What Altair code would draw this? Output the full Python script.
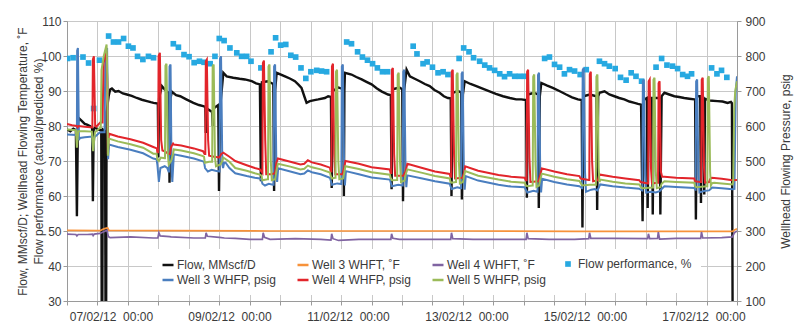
import altair as alt
import pandas as pd

FONT = "Liberation Sans"
TXT = "#3a3a3a"
GRID = "#c8c8c8"
AXC = "#9a9a9a"

# ---- data (hours from left edge of the time axis, value) ----
FLOW = [
    (0, 79.0), (1.3, 78.5), (2.5, 79.2), (3.5, 78.8), (3.9, 54.2), (4.3, 80.5), (4.6, 82.3), (5.9, 81.4),
    (7.0, 80.6), (7.9, 80.4), (9.2, 79.9), (9.9, 79.5), (10.2, 58.5), (10.5, 79.0), (11.1, 79.5), (12.4, 79.0),
    (13.5, 78.8), (13.7, 20), (13.9, 20), (14.1, 79.0), (15.0, 78.5), (15.2, 20), (15.4, 20), (15.6, 84.0),
    (16.4, 88.5), (17.0, 90.4), (17.7, 90.7), (19.0, 89.8), (20.3, 90.0), (22.0, 89.3), (23.6, 89.0),
    (25.5, 88.6), (27.5, 88.0), (29.5, 87.5), (31.5, 87.1), (33.0, 86.8), (34.1, 86.6), (35.8, 86.4),
    (36.0, 71.0), (36.3, 88.0), (37.4, 91.4), (39.0, 90.0), (40.1, 89.5), (40.4, 63.8), (40.8, 88.0),
    (41.3, 89.8), (43.0, 88.8), (44.6, 88.5), (47.0, 87.6), (49.8, 86.6), (52.0, 86.0), (53.7, 85.7),
    (54.5, 85.5), (54.7, 78.0), (55.0, 85.0), (57.2, 84.0), (57.4, 80.0), (57.7, 85.0), (59.6, 86.0),
    (59.9, 61.4), (60.3, 85.0), (61.6, 95.2), (62.9, 94.2), (65.5, 93.8), (68.0, 93.5), (70.1, 93.3),
    (72.8, 92.8), (74.5, 92.2), (76.0, 91.9), (76.4, 64.2), (76.8, 92.5), (79.0, 92.8), (81.3, 92.0),
    (81.6, 61.4), (82.0, 90.0), (82.6, 95.2), (85.9, 94.2), (88.0, 93.5), (89.8, 92.8), (91.2, 91.8),
    (92.4, 90.9), (93.5, 88.5), (94.4, 86.6), (95.7, 87.1), (97.5, 87.4), (99.0, 87.6), (101.6, 88.0),
    (102.9, 88.5), (104.0, 88.3), (104.3, 62.3), (104.7, 90.0), (107.0, 91.0), (108.8, 90.5), (109.1, 60.0),
    (109.3, 90.0), (109.5, 95.2), (112.1, 94.7), (114.0, 94.0), (116.1, 93.3), (118.0, 92.6), (120.0, 91.9),
    (122.0, 90.8), (123.9, 89.9), (126.5, 89.0), (127.6, 88.8), (127.9, 61.9), (128.3, 90.5), (131.0, 91.0),
    (132.1, 90.5), (132.4, 58.5), (132.8, 90.0), (133.8, 96.1), (135.1, 94.2), (137.0, 93.5), (139.0, 92.8),
    (141.0, 92.0), (142.9, 91.4), (144.8, 90.3), (146.8, 89.5), (148.5, 88.5), (150.1, 88.0), (151.2, 87.9),
    (151.5, 60.0), (151.9, 89.5), (154.0, 90.0), (155.3, 89.6), (155.6, 59.0), (156.0, 89.0), (156.7, 92.8),
    (159.0, 92.0), (161.3, 91.4), (164.0, 90.6), (166.5, 89.9), (169.0, 89.2), (171.8, 88.5), (174.5, 88.0),
    (177.0, 87.6), (179.0, 87.6), (180.9, 87.4), (181.2, 59.5), (181.6, 89.0), (184.0, 89.5), (185.6, 89.0),
    (185.9, 56.6), (186.3, 88.5), (186.9, 92.3), (189.0, 91.6), (191.4, 90.9), (194.0, 90.0), (196.7, 89.0),
    (199.0, 88.2), (201.3, 87.6), (202.8, 87.4), (203.1, 51.0), (203.5, 88.5), (206.0, 89.0), (208.6, 88.5),
    (208.9, 56.0), (209.3, 88.5), (209.8, 89.5), (211.8, 89.9), (213.7, 89.0), (215.7, 88.5), (217.6, 88.0),
    (219.6, 87.6), (221.6, 87.0), (223.6, 86.6), (225.0, 86.3), (226.2, 86.1), (226.8, 52.8), (227.3, 87.5),
    (228.5, 88.0), (228.8, 56.6), (229.2, 88.0), (230.5, 88.0), (230.8, 54.7), (231.2, 88.0), (233.5, 88.0),
    (233.8, 54.7), (234.3, 88.5), (235.4, 89.5), (237.3, 89.0), (239.3, 88.5), (241.2, 88.3), (243.2, 88.0),
    (245.2, 87.8), (247.2, 87.6), (247.5, 87.5), (247.8, 53.3), (248.2, 88.5), (249.5, 88.5), (249.8, 58.0),
    (250.2, 88.0), (250.8, 88.0), (251.1, 60.4), (251.4, 87.8), (253.1, 87.3), (256.3, 87.1), (258.3, 87.0),
    (260.3, 86.6), (261.6, 86.9), (262.0, 86.5), (262.3, 20),
]

W3_WHFT = [
    (0, 50.2), (13.0, 50.1), (14.5, 50.6), (16.0, 50.9), (16.5, 50.2), (40, 50.1), (80, 50.0), (120, 50.0),
    (160, 50.0), (200, 49.9), (240, 49.9), (262.2, 49.9), (263.0, 50.3), (264, 50.6),
]

W4_WHFT = [
    (0, 49.1), (3.5, 49.0), (3.9, 48.6), (4.4, 49.0), (8, 49.0), (10.0, 49.1), (10.3, 48.7), (10.7, 49.1),
    (13.0, 49.3), (14.5, 49.8), (15.8, 50.2), (16.3, 48.4), (17.0, 48.1), (25, 48.3), (34, 48.0), (35.8, 48.0),
    (36.2, 49.5), (36.7, 48.6), (40.4, 48.4), (41, 48.3), (50, 48.0), (54.5, 48.0), (54.8, 49.5), (55.3, 48.5),
    (60.0, 48.2), (62, 48.0), (66.3, 47.9), (72, 47.6), (77.0, 47.6), (77.3, 49.5), (77.8, 48.2), (80, 47.6),
    (90, 47.8), (100, 47.6), (104.0, 47.4), (104.3, 49.2), (104.8, 47.8), (107, 47.3), (115, 47.6),
    (127.6, 47.6), (127.9, 49.2), (128.4, 47.9), (131, 47.6), (140, 47.6), (151.2, 47.6), (151.5, 49.5),
    (152.0, 47.8), (160, 47.6), (170, 47.6), (180.9, 47.6), (181.2, 49.5), (181.7, 47.8), (190, 47.6),
    (200, 47.6), (205.6, 47.8), (205.9, 49.5), (206.4, 47.9), (215, 47.9), (228.8, 47.8), (229.1, 49.2),
    (229.6, 47.8), (232.7, 47.9), (233.0, 49.7), (233.5, 47.7), (240, 47.9), (249.7, 47.9), (250.0, 49.7),
    (250.5, 48.0), (258, 48.1), (262.2, 48.3), (263.0, 49.5), (264, 50.0),
]

PERF = [
    (0.2, 99.3), (2.4, 99.5), (6.3, 99.7), (8.5, 98.0), (10.5, 85.0), (12.8, 98.8), (16.4, 105.7), (18.3, 104.0),
    (20.3, 104.0), (22.3, 105.0), (24.2, 102.8), (26.0, 102.3), (27.8, 99.9), (29.9, 99.0), (32.1, 99.9),
    (34.1, 99.5), (41.9, 103.5), (43.9, 102.5), (46.1, 100.4), (48.1, 99.8), (50.1, 98.1), (52.2, 98.5),
    (54.0, 98.2), (56.4, 97.8), (58.3, 99.9), (60.0, 105.0), (61.9, 104.4), (64.2, 102.3), (66.9, 100.9),
    (68.8, 99.9), (70.8, 99.9), (72.5, 98.5), (76.4, 96.6), (80.4, 101.2), (82.2, 105.2), (84.2, 103.1),
    (86.2, 103.3), (88.2, 100.2), (90.1, 99.7), (92.2, 96.6), (94.1, 93.6), (96.1, 95.5), (98.4, 95.9),
    (100.3, 95.7), (102.3, 95.5), (110.2, 104.0), (112.1, 103.5), (114.5, 101.2), (116.4, 99.7), (118.4, 98.8),
    (120.4, 97.8), (122.3, 96.6), (124.3, 95.5), (126.3, 95.5), (136.4, 102.8), (137.9, 100.6), (140.3, 97.8),
    (141.9, 98.3), (144.0, 96.8), (146.2, 95.2), (148.2, 95.5), (150.1, 94.7), (154.5, 99.3), (156.3, 102.3),
    (158.4, 101.2), (160.2, 99.5), (162.6, 98.5), (164.6, 97.4), (166.5, 96.6), (168.5, 95.9), (170.5, 94.9),
    (172.4, 94.1), (174.4, 94.9), (176.4, 94.2), (178.3, 94.2), (180.3, 94.2), (188.2, 99.3), (190.1, 99.7),
    (192.1, 97.6), (194.1, 96.8), (196.0, 94.9), (198.0, 96.1), (200.0, 95.7), (202.2, 94.7), (204.6, 96.1),
    (209.8, 98.5), (211.8, 97.8), (213.7, 97.1), (216.0, 96.4), (218.1, 93.9), (220.3, 93.1), (222.3, 95.2),
    (224.2, 94.2), (226.4, 92.8), (232.1, 96.8), (234.3, 99.3), (236.4, 97.4), (238.6, 97.1), (240.6, 96.4),
    (242.6, 94.7), (244.5, 94.2), (246.1, 94.9), (254.0, 96.6), (256.1, 94.9), (257.9, 95.9), (260.0, 93.9),
]

W3_WHFP = [
    (0, 576), (3.7, 574), (3.9, 574), (4.0, 815), (4.3, 823), (4.7, 560), (5.1, 566), (7, 568), (9.9, 570),
    (10.3, 530), (10.8, 568), (13.0, 582), (14.8, 582), (15.1, 790), (15.8, 823), (16.0, 700), (16.2, 505),
    (16.6, 547), (20, 540), (25, 532), (30, 522), (34.0, 507), (35.3, 505), (35.6, 490), (36.2, 440),
    (36.8, 480), (38.5, 485), (39.5, 480), (40.0, 470), (40.2, 470), (40.4, 770), (40.8, 776), (41.2, 480),
    (41.5, 440), (41.8, 480), (42.1, 519), (45, 515), (50, 507), (53.6, 499), (54.0, 497), (54.4, 480),
    (55.5, 470), (57.0, 475), (58.5, 472), (60.0, 470), (60.1, 470), (60.3, 792), (60.7, 799), (61.2, 490),
    (61.5, 480), (61.9, 495), (62.5, 495), (64, 480), (66.3, 465), (70.8, 457), (74, 452), (76.0, 450),
    (76.6, 446), (77.0, 435), (78.0, 430), (79.5, 435), (81.2, 432), (81.4, 432), (81.6, 770), (82.0, 776),
    (82.5, 480), (82.8, 440), (83.2, 479), (88, 470), (92, 462), (93.5, 464), (94.9, 473), (96.5, 468),
    (100, 462), (103.6, 452), (103.9, 445), (104.4, 432), (106.5, 436), (108.0, 434), (108.1, 434),
    (108.3, 770), (108.7, 776), (109.2, 470), (109.5, 430), (109.9, 471), (115, 462), (120, 453),
    (127.2, 447), (127.5, 440), (128.0, 428), (130.5, 432), (132.2, 430), (132.3, 430), (132.5, 755),
    (132.9, 761), (133.4, 470), (133.7, 425), (134.1, 459), (140, 450), (145, 442), (150.8, 435),
    (151.1, 428), (151.6, 420), (153.8, 425), (155.2, 422), (155.3, 422), (155.5, 749), (155.9, 755),
    (156.4, 460), (156.7, 418), (157.1, 457), (162, 444), (170, 432), (175, 427), (180.3, 425), (180.8, 418),
    (181.4, 410), (183.8, 415), (185.3, 412), (185.4, 412), (185.6, 746), (186.0, 752), (186.5, 450),
    (186.8, 410), (187.2, 449), (192, 440), (197, 433), (201.9, 428), (202.5, 425), (202.9, 422),
    (203.0, 422), (203.2, 760), (203.6, 766), (204.1, 470), (204.5, 412), (206.5, 418), (208.0, 420),
    (209.0, 416), (209.6, 425), (210.1, 433), (215, 428), (220, 424), (225.5, 421), (226.1, 418),
    (226.6, 416), (226.7, 416), (226.9, 727), (227.3, 733), (227.8, 460), (228.2, 410), (230.0, 412),
    (232.0, 410), (233.5, 414), (234.3, 420), (235.4, 428), (240, 426), (247.2, 423), (247.4, 420),
    (247.6, 418), (247.7, 418), (247.9, 727), (248.3, 733), (248.8, 460), (249.2, 410), (251.0, 414),
    (253.0, 416), (253.6, 420), (254.2, 424), (258, 422), (262.2, 419), (263.0, 420), (263.5, 700), (264, 742),
]

W4_WHFP = [
    (0, 606), (2, 602), (3.8, 600), (4.2, 596), (4.6, 600), (7, 598), (10.0, 596), (10.2, 790), (10.6, 799),
    (11.1, 600), (11.5, 598), (13.1, 610), (14.0, 610), (14.4, 780), (15.5, 814), (15.9, 720), (16.1, 520),
    (16.5, 578), (20, 570), (25, 562), (30, 552), (34.0, 540), (35.4, 536), (35.6, 525), (35.9, 525),
    (36.1, 800), (36.6, 809), (37.1, 560), (37.6, 530), (38.5, 528), (40.0, 520), (40.6, 520), (41.0, 540),
    (41.8, 550), (42.1, 547), (45, 544), (50, 536), (53.6, 528), (54.2, 520), (54.5, 520), (54.7, 785),
    (55.1, 790), (55.6, 560), (56.0, 515), (58, 512), (60.0, 510), (60.8, 520), (61.6, 524), (64, 512),
    (66.3, 500), (70.8, 488), (74, 480), (76.0, 476), (76.6, 470), (77.0, 466), (77.2, 780), (77.6, 787),
    (78.1, 560), (78.5, 462), (80.5, 462), (82.0, 465), (82.5, 495), (83.1, 507), (88, 498), (92, 490),
    (93.5, 492), (94.9, 502), (96.5, 496), (100, 490), (103.6, 481), (103.9, 470), (104.2, 470), (104.4, 770),
    (104.8, 778), (105.3, 520), (105.7, 462), (108.5, 462), (109.2, 480), (109.7, 500), (115, 492),
    (120, 482), (127.2, 476), (127.5, 466), (127.8, 466), (128.0, 760), (128.4, 766), (128.9, 520),
    (129.3, 458), (132.5, 458), (133.4, 470), (134.1, 492), (140, 480), (145, 470), (150.8, 463),
    (151.1, 455), (151.4, 455), (151.6, 755), (152.0, 761), (152.5, 520), (152.9, 450), (155.8, 452),
    (156.4, 465), (156.9, 485), (162, 472), (170, 460), (175, 455), (180.3, 452), (180.8, 445), (181.1, 445),
    (181.3, 755), (181.7, 761), (182.2, 510), (182.6, 440), (185.8, 442), (186.5, 460), (187.1, 479),
    (192, 470), (197, 462), (201.9, 457), (202.4, 450), (205.5, 446), (205.8, 446), (206.0, 748),
    (206.4, 755), (206.9, 500), (207.3, 442), (209.2, 445), (209.6, 458), (210.1, 461), (215, 455),
    (220, 450), (225.5, 445), (226.0, 440), (228.8, 436), (229.0, 436), (229.2, 728), (229.6, 733),
    (230.1, 480), (230.5, 436), (232.6, 438), (232.9, 438), (233.1, 722), (233.5, 728), (234.0, 470),
    (234.5, 455), (235.4, 455), (240, 452), (247.2, 450), (247.4, 442), (249.7, 440), (249.9, 440),
    (250.1, 732), (250.5, 738), (251.0, 480), (251.4, 438), (253.0, 440), (253.4, 448), (254.1, 452),
    (258, 449), (262.2, 445), (264, 446),
]

W5_WHFP = [
    (0, 590), (3.5, 588), (3.9, 538), (4.4, 585), (7, 585), (9.8, 584), (10.3, 528), (11.0, 582), (13.0, 595),
    (13.3, 595), (13.6, 760), (14.5, 800), (15.6, 833), (15.9, 740), (16.1, 515), (16.5, 564), (20, 556),
    (25, 548), (30, 538), (34.0, 521), (35.3, 521), (35.6, 505), (36.2, 500), (37.0, 510), (38.4, 508),
    (38.6, 508), (38.8, 772), (39.2, 778), (39.7, 520), (40.1, 490), (41.0, 500), (41.8, 520), (42.1, 533),
    (45, 530), (50, 522), (53.6, 514), (54.0, 512), (54.3, 495), (56.0, 498), (57.2, 498), (57.4, 770),
    (57.8, 776), (58.3, 510), (58.7, 485), (60.5, 490), (61.2, 500), (61.6, 510), (64, 498), (66.3, 480),
    (70.8, 472), (74, 465), (76.0, 461), (76.6, 458), (77.0, 445), (79.0, 448), (79.2, 448), (79.4, 770),
    (79.8, 776), (80.3, 500), (80.7, 445), (82.0, 448), (82.5, 470), (83.1, 492), (88, 484), (92, 476),
    (93.5, 478), (94.9, 487), (96.5, 482), (100, 476), (103.6, 467), (103.9, 458), (104.4, 450), (105.6, 452),
    (105.8, 452), (106.0, 755), (106.4, 761), (106.9, 500), (107.3, 448), (108.8, 450), (109.2, 465),
    (109.7, 485), (115, 477), (120, 468), (127.2, 461), (127.5, 452), (128.0, 445), (130.0, 446),
    (130.1, 446), (130.3, 746), (130.7, 752), (131.2, 500), (131.6, 440), (133.0, 444), (133.4, 460),
    (134.1, 476), (140, 466), (145, 457), (150.8, 450), (151.1, 440), (151.6, 438), (153.2, 440),
    (153.3, 440), (153.5, 746), (153.9, 752), (154.4, 500), (154.8, 436), (156.0, 440), (156.4, 455),
    (156.9, 471), (162, 458), (170, 447), (175, 441), (180.3, 438), (180.8, 430), (181.4, 428), (183.4, 430),
    (183.5, 430), (183.7, 741), (184.1, 747), (184.6, 490), (185.0, 426), (186.0, 430), (186.5, 448),
    (187.1, 464), (192, 455), (197, 448), (201.9, 443), (202.5, 436), (203.0, 430), (206.0, 432),
    (208.3, 432), (208.4, 432), (208.6, 741), (209.0, 747), (209.5, 480), (209.8, 440), (210.2, 447),
    (215, 441), (220, 436), (225.5, 433), (226.1, 426), (226.6, 422), (230.8, 424), (230.9, 424),
    (231.1, 732), (231.5, 738), (232.0, 470), (232.4, 422), (233.8, 425), (234.3, 435), (235.4, 442),
    (240, 440), (247.2, 438), (247.4, 430), (247.9, 425), (252.2, 428), (252.3, 428), (252.5, 736),
    (252.9, 742), (253.4, 470), (253.7, 430), (254.2, 437), (255.0, 438), (258, 436), (262.2, 433),
    (262.5, 440), (262.9, 650), (263.3, 700), (264, 728),
]

X_LABEL_POS = [17.3, 64.0, 110.7, 157.4, 204.1, 250.8]
X_LABELS = ["07/02/12\u00a0 00:00", "09/02/12\u00a0 00:00", "11/02/12\u00a0 00:00",
            "13/02/12\u00a0 00:00", "15/02/12\u00a0 00:00", "17/02/12\u00a0 00:00"]
LEFT_TICKS = [30, 40, 50, 60, 70, 80, 90, 100, 110]
RIGHT_TICKS = [100, 200, 300, 400, 500, 600, 700, 800, 900]
GRID_HOURS = [0, 12, 24, 36, 48, 60, 72, 84, 96, 108, 120, 132, 144, 156, 168, 180, 192, 204, 216,
              228, 240, 252, 264]

LINE_SERIES = ["Flow, MMscf/D", "Well 3 WHFT, \u02daF", "Well 4 WHFT, \u02daF",
               "Well 3 WHFP, psig", "Well 4 WHFP, psig", "Well 5 WHFP, psig"]
LINE_COLORS = ["#111111", "#F7923A", "#8064A2", "#4A7EBF", "#E2252B", "#9BBB59"]
PERF_SERIES = ["Flow performance, %", " "]
PERF_COLORS = ["#27A9E1", "#ffffff"]


def frame(name, pts, col):
    return pd.DataFrame({"series": name, "h": [p[0] for p in pts], col: [p[1] for p in pts]})


flow_df = frame(LINE_SERIES[0], FLOW, "v")
whft_df = pd.concat([frame(LINE_SERIES[1], W3_WHFT, "v"), frame(LINE_SERIES[2], W4_WHFT, "v")])
perf_df = frame(PERF_SERIES[0], PERF, "v")
whfp_df = pd.concat([frame(LINE_SERIES[3], W3_WHFP, "p"), frame(LINE_SERIES[4], W4_WHFP, "p"),
                     frame(LINE_SERIES[5], W5_WHFP, "p")])

xscale = alt.Scale(domain=[0, 264], nice=False, zero=False)
lscale = alt.Scale(domain=[30, 110], nice=False, zero=False)
rscale = alt.Scale(domain=[100, 900], nice=False, zero=False)

label_expr = " : ".join(
    f"abs(datum.value - {p}) < 0.01 ? '{t}'" for p, t in zip(X_LABEL_POS, X_LABELS)) + " : ''"
on_grid = {"condition": {"test": "datum.value % 12 === 0", "value": 1}, "value": 0}

x_axis = alt.Axis(values=GRID_HOURS + X_LABEL_POS, labelExpr=label_expr, title=None,
                  grid=True, gridColor=GRID, gridOpacity=on_grid, tickOpacity=on_grid,
                  tickSize=4, tickColor=AXC, domainColor=AXC, labelFont=FONT, labelFontSize=12,
                  labelColor=TXT, labelPadding=6, labelOverlap=False, labelFlush=False)

left_axis = alt.Axis(values=LEFT_TICKS, grid=True, gridColor=GRID, tickSize=4, tickColor=AXC,
                     domainColor=AXC, labelFont=FONT, labelFontSize=12, labelColor=TXT, labelPadding=2,
                     title=["Flow, MMscf/D; Wellhead Flowing Temperature, \u02daF",
                            "Flow performance (actual/predicted %)"],
                     titleFont=FONT, titleFontSize=12, titleFontWeight="normal", titleColor=TXT,
                     titleAngle=270, titleX=-41, titleY=140, titleAlign="center",
                     titleBaseline="alphabetic", titleLineHeight=16)

right_axis = alt.Axis(orient="right", values=RIGHT_TICKS, grid=False, tickSize=4, tickColor=AXC,
                      domainColor=AXC, labelFont=FONT, labelFontSize=12, labelColor=TXT, labelPadding=4,
                      title="Wellhead Flowing Pressure, psig", titleFont=FONT, titleFontSize=12,
                      titleFontWeight="normal", titleColor=TXT, titleAngle=270, titleX=52, titleY=140,
                      titleAlign="center", titleBaseline="alphabetic")

line_legend = alt.Legend(title=None, orient="none", legendX=85, legendY=228, columns=3,
                         direction="horizontal",
                         symbolType="stroke", symbolSize=121, symbolStrokeWidth=2.5,
                         labelFont=FONT, labelFontSize=12, labelColor=TXT, labelOffset=2,
                         columnPadding=16, rowPadding=2, padding=9, fillColor="white")
perf_legend = alt.Legend(title=None, orient="none", legendX=486, legendY=228, columns=1,
                         symbolType="square", symbolSize=32, symbolStrokeWidth=0,
                         labelFont=FONT, labelFontSize=12, labelColor=TXT, labelOffset=4,
                         rowPadding=2, padding=9, fillColor="white")

color = alt.Color("series:N", scale=alt.Scale(domain=LINE_SERIES, range=LINE_COLORS), legend=line_legend)
X = alt.X("h:Q", scale=xscale, axis=x_axis)
YL = alt.Y("v:Q", scale=lscale, axis=left_axis)

flow_line = alt.Chart(flow_df).mark_line(strokeWidth=2.4, clip=True).encode(x=X, y=YL, color=color)
whft_lines = alt.Chart(whft_df).mark_line(strokeWidth=1.7, clip=True).encode(x=X, y=YL, color=color)
perf_pts = alt.Chart(perf_df).mark_square(size=32, opacity=1, clip=True).encode(
    x=X, y=YL,
    fill=alt.Fill("series:N", scale=alt.Scale(domain=PERF_SERIES, range=PERF_COLORS), legend=perf_legend),
)
whfp_lines = alt.Chart(whfp_df).mark_line(strokeWidth=2.0, clip=True).encode(
    x=X,
    y=alt.Y("p:Q", scale=rscale, axis=right_axis),
    color=color,
)

left = alt.layer(flow_line, whft_lines, perf_pts)
right = alt.layer(whfp_lines)

chart = (
    alt.layer(left, right)
    .resolve_scale(y="independent")
    .properties(width=670, height=280,
                padding={"left": 67, "top": 21, "right": 63, "bottom": 31},
                autosize=alt.AutoSizeParams(type="none"),
                background="white")
    .configure_view(stroke=None)
)

chart.save("out.html", embed_options={"renderer": "svg", "actions": False})
